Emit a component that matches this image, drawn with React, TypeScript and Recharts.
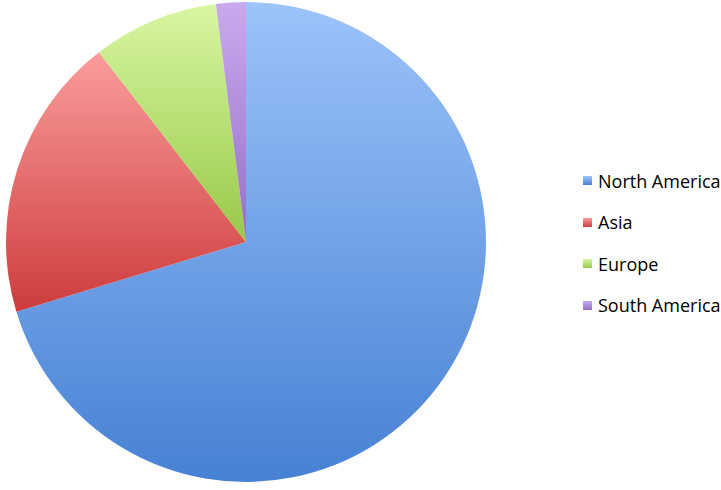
import { PieChart, Pie, Cell, Legend } from "recharts";

const regions = ["North America", "Asia", "Europe", "South America"];
const shares = [70.3, 19.2, 8.5, 2.0];

const topColors = ["#9cc3fb", "#fb9c9c", "#d8f7a2", "#c9aaee"];
const bottomColors = ["#4781d3", "#cd3c3c", "#98c848", "#9470c6"];

const data = regions.map((name, i) => ({ name, value: shares[i] }));

function LegendBox() {
  return (
    <div style={{ fontFamily: "'Open Sans', sans-serif", fontSize: 18, color: "#000" }}>
      {regions.map((name, i) => (
        <div key={name} style={{ display: "flex", alignItems: "center", height: 41.5 }}>
          <span
            style={{
              display: "inline-block",
              width: 9,
              height: 9,
              marginRight: 6,
              background: `linear-gradient(${topColors[i]}, ${bottomColors[i]})`,
            }}
          />
          <span style={{ whiteSpace: "nowrap" }}>{name}</span>
        </div>
      ))}
    </div>
  );
}

export default function App() {
  return (
    <div style={{ position: "absolute", left: 0, top: 0, background: "#fff" }}>
      <PieChart width={721} height={490} margin={{ top: 0, right: 0, bottom: 0, left: 0 }}>
        <defs>
          {regions.map((name, i) => (
            <linearGradient key={name} id={`grad${i}`} x1="0" y1="0" x2="0" y2="1">
              <stop offset="0%" stopColor={topColors[i]} />
              <stop offset="100%" stopColor={bottomColors[i]} />
            </linearGradient>
          ))}
        </defs>
        <Pie
          data={data}
          dataKey="value"
          nameKey="name"
          cx={246}
          cy={242}
          outerRadius={240}
          startAngle={90}
          endAngle={-270}
          stroke="none"
          isAnimationActive={false}
        >
          {data.map((d, i) => (
            <Cell key={d.name} fill={`url(#grad${i})`} />
          ))}
        </Pie>
        <Legend
          layout="vertical"
          align="right"
          verticalAlign="top"
          content={() => <LegendBox />}
          wrapperStyle={{ left: 583, top: 160, width: 150 }}
        />
      </PieChart>
    </div>
  );
}
